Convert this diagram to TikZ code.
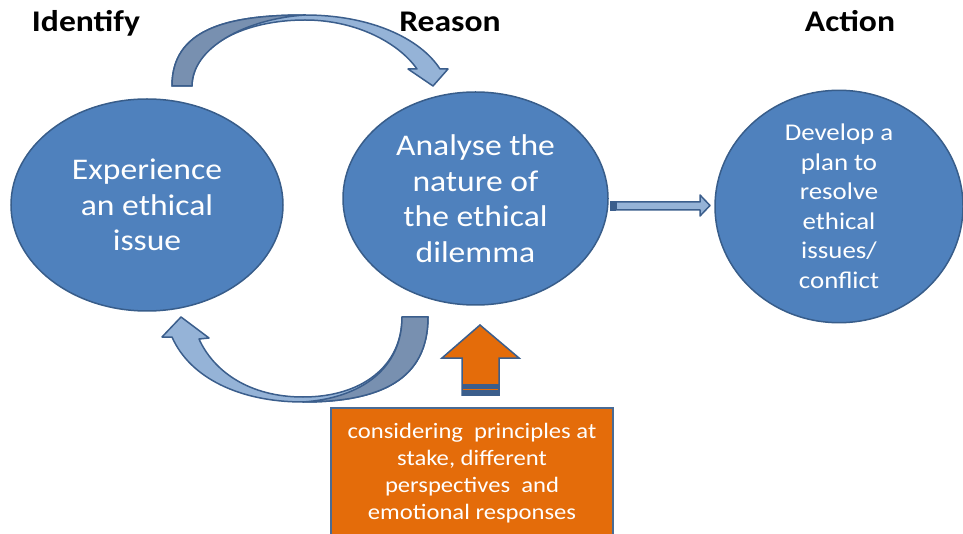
\documentclass[tikz,border=0pt]{standalone}
\usepackage{fontspec}
\setmainfont{Carlito}[FakeStretch=1.12]
\usetikzlibrary{shapes.geometric}

\definecolor{ellfill}{HTML}{4F81BD}
\definecolor{ellline}{HTML}{385D8A}
\definecolor{arrlight}{HTML}{95B3D7}
\definecolor{arrdark}{HTML}{7890B0}
\definecolor{arrline}{HTML}{3B5E8C}
\definecolor{orangefill}{HTML}{E46C0A}
\definecolor{boxline}{HTML}{4A6B94}

\begin{document}
\begin{tikzpicture}[x=1pt,y=-1pt,
  stage/.style={ellipse, draw=ellline, fill=ellfill, line width=1.5pt,
    inner sep=0pt, text=white, align=center},
  bigtext/.style={font=\fontsize{30}{35.5}\selectfont},
  smalltext/.style={font=\fontsize{24}{29.5}\selectfont},
  heading/.style={anchor=base, font=\bfseries\fontsize{30}{36}\selectfont},
  bandlight/.style={fill=arrlight, draw=arrline, line width=1.5pt, line join=round},
  banddark/.style={fill=arrdark, draw=arrline, line width=1.5pt, line join=round},
  uparrow/.style={fill=orangefill, draw=arrline, line width=1.5pt, line join=miter},
  considerbox/.style={rectangle, draw=boxline, fill=orangefill, line width=1.5pt,
    minimum width=282pt, minimum height=130pt, inner sep=0pt, text=white,
    align=center, font=\fontsize{22}{27}\selectfont}
]
\useasboundingbox (0,0) rectangle (963,534);
\clip (0,0) rectangle (963,534);

% column headings
\node[heading] (identify) at (86,32) {Identify};
\node[heading] (reason) at (450,32) {Reason};
\node[heading] (action) at (850,32) {Action};

% the three stages
\node[stage, bigtext, minimum width=272pt, minimum height=212pt] (experience) at (147,205)
  {Experience\\an ethical\\issue};
\node[stage, bigtext, minimum width=265pt, minimum height=213pt] (analyse) at (475.5,198.5)
  {Analyse the\\nature of\\the ethical\\dilemma};
\node[stage, smalltext, minimum width=248pt, minimum height=211pt] (develop) at (839,206.5)
  {Develop a\\plan to\\resolve\\ethical\\issues/\\conflict};

% curved arrow over the top: experience -> analyse
\path[bandlight] (172,86) .. controls (172,30) and (225,15) .. (305,15)
  .. controls (370,15) and (420,38) .. (440,69) -- (448,69) -- (433,86) -- (408,69) -- (417,69)
  .. controls (398,42) and (355,20) .. (305,20)
  .. controls (245,20) and (193,45) .. (192,86) -- cycle;
\path[banddark] (172,86) .. controls (172,30) and (225,15) .. (305,15)
  .. controls (245,19) and (192,48) .. (192,86) -- cycle;

% curved arrow underneath: analyse -> experience
\path[bandlight] (172,337) .. controls (190,378) and (240,402) .. (303,402)
  .. controls (380,402) and (428,380) .. (428,317) -- (402,317)
  .. controls (402,366) and (362,397) .. (303,397)
  .. controls (250,397) and (214,372) .. (199,339) -- (209,338) -- (181,317) -- (162,337) -- cycle;
\path[banddark] (402,317) -- (428,317) .. controls (428,380) and (380,402) .. (303,402)
  .. controls (362,398) and (402,368) .. (402,317) -- cycle;

% straight arrow: analyse -> develop
\fill[arrline] (610,201) rectangle (616,211);
\path[bandlight] (616,202) -- (700,202) -- (700,195) -- (710,205.5) -- (700,216)
  -- (700,210) -- (616,210) -- cycle;

% orange arrow feeding the reasoning stage
\path[uparrow] (480,325) -- (519,358) -- (499,358) -- (499,395) -- (462,395)
  -- (462,358) -- (442,358) -- cycle;
\fill[arrline] (462,384) rectangle (499,396);
\draw[orangefill, line width=1.5pt] (462.8,389.5) -- (498.2,389.5);

% considerations box
\node[considerbox] (consider) at (472,473)
  {considering\ \ principles at\\stake, different\\perspectives\ \ and\\emotional responses};
\end{tikzpicture}
\end{document}
